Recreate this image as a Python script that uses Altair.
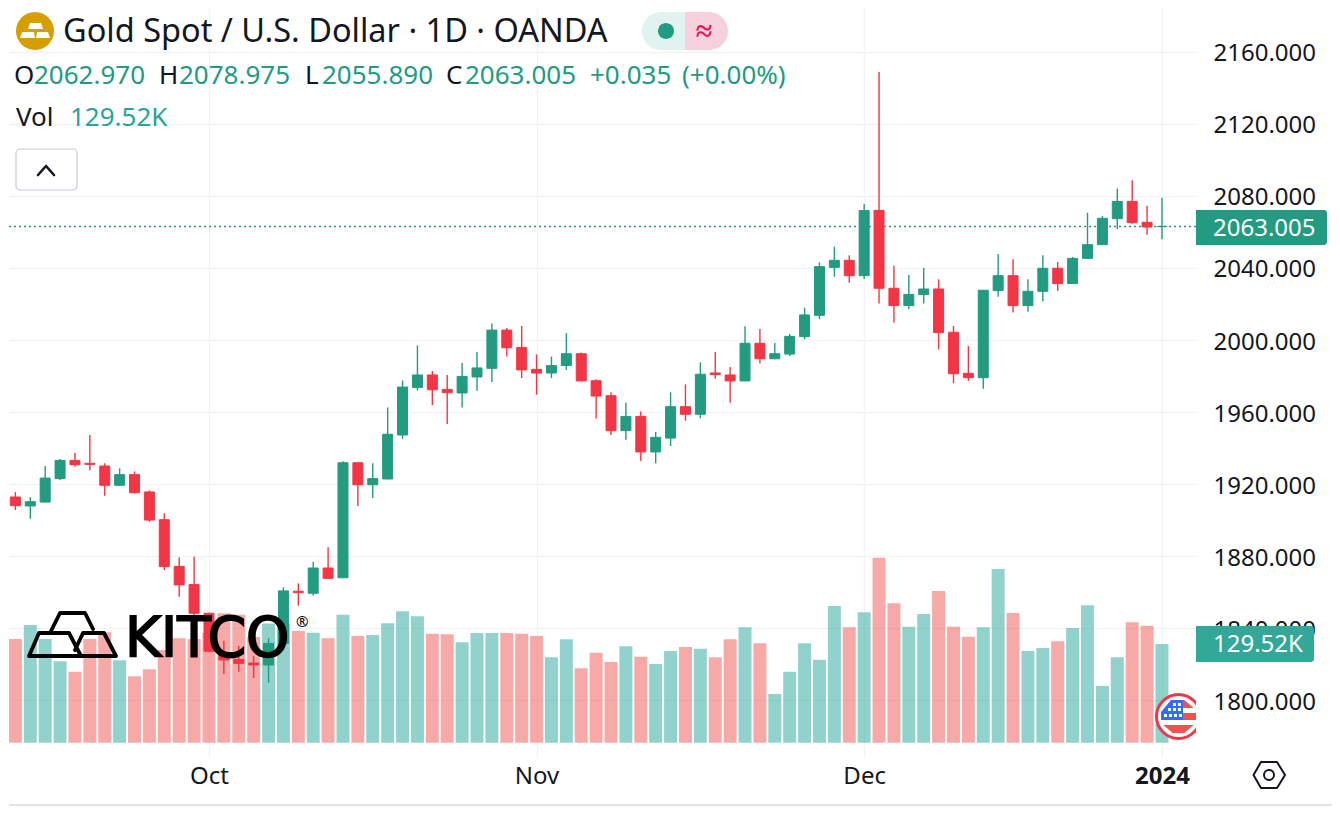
import altair as alt
import pandas as pd

# ---- data ----
opens = [1922.3,1912.9,1907.9,1910.1,1923.1,1933.2,1931.6,1930.1,1919.4,1925.3,1915.7,1900.3,1874.4,1864.3,1848.4,1826.7,1822.8,1820.8,1819.7,1831.7,
         1860.6,1859.5,1873.5,1868.1,1931.9,1919.7,1922.9,1947.3,1973.7,1980.6,1972.6,1970.6,1979.5,1984.3,2005.5,1995.9,1983.7,1981.7,1985.8,1992.4,
         1977.4,1969.1,1949.7,1957.6,1937.9,1945.6,1963.0,1958.8,1981.7,1980.6,1977.3,1998.2,1989.6,1992.2,2001.9,2013.7,2040.3,2044.2,2035.7,2071.9,
         2028.7,2019.1,2025.2,2028.3,2004.3,1981.5,1979.1,2027.4,2035.7,2019.1,2027.0,2039.8,2031.3,2045.3,2052.9,2067.3,2076.9,2065.3,2062.97]
highs = [1924.2,1915.7,1912.7,1930.1,1934.0,1937.3,1947.3,1931.6,1928.8,1927.1,1916.6,1903.8,1879.4,1879.8,1848.7,1833.2,1830.2,1824.7,1834.5,1862.8,
         1865.0,1877.0,1885.0,1932.7,1932.1,1931.6,1962.6,1977.6,1997.0,1982.8,1980.6,1987.2,1993.3,2009.2,2006.7,2007.8,1992.0,1990.8,2003.9,1993.0,
         1978.2,1971.0,1965.2,1960.4,1949.0,1971.0,1975.4,1987.6,1993.3,1985.0,2007.6,2006.1,1998.3,2003.3,2017.9,2043.1,2051.8,2047.0,2075.5,2148.7,
         2041.2,2036.1,2039.9,2033.7,2007.8,1996.7,2027.7,2047.7,2044.8,2033.7,2047.0,2043.3,2046.1,2070.6,2068.8,2084.1,2088.6,2074.5,2078.975]
lows = [1907.5,1905.7,1900.9,1909.8,1922.3,1929.7,1927.7,1913.6,1919.2,1914.8,1899.2,1872.4,1857.6,1846.1,1826.9,1814.7,1816.0,1812.5,1809.9,1831.4,
        1852.6,1858.2,1867.4,1868.0,1907.9,1912.3,1922.7,1945.1,1971.9,1963.9,1953.4,1962.6,1971.9,1976.7,1990.8,1978.9,1969.7,1978.9,1983.4,1977.1,
        1956.4,1947.3,1944.7,1932.9,1931.6,1941.2,1955.2,1956.5,1978.5,1965.2,1977.1,1986.9,1989.3,1991.1,2000.4,2011.5,2035.1,2031.8,2033.8,2020.2,
        2009.6,2017.2,2020.2,1994.8,1976.0,1977.3,1973.0,2024.0,2015.3,2015.7,2021.5,2027.2,2031.1,2045.1,2052.7,2061.4,2064.5,2058.4,2055.89]
closes = [1912.7,1908.1,1910.3,1923.4,1933.2,1930.8,1931.0,1919.4,1925.3,1915.3,1900.1,1874.3,1864.1,1848.4,1827.3,1822.5,1820.6,1819.7,1831.7,1860.8,
          1859.8,1873.5,1867.8,1931.9,1919.7,1923.1,1947.7,1973.9,1980.6,1972.4,1970.8,1979.8,1984.5,2005.5,1995.7,1983.4,1981.7,1985.8,1992.4,1977.3,
          1968.9,1949.7,1957.6,1937.9,1946.0,1963.0,1958.8,1981.0,1980.8,1977.3,1998.2,1989.6,1992.4,2002.0,2013.9,2040.7,2044.2,2035.7,2071.8,2028.7,
          2019.1,2025.3,2028.3,2004.1,1981.3,1979.1,2027.6,2035.7,2019.1,2027.0,2039.8,2031.3,2045.3,2052.9,2067.5,2076.9,2065.1,2062.7,2063.005]
volumes = [122.6,136.1,154.5,136.1,106.8,93.2,136.1,144.9,108.1,87.1,96.3,121.7,137.0,136.1,144.0,169.8,168.0,138.7,156.4,155.8,
           146.6,144.4,137.0,168.0,140.0,141.3,156.7,172.4,165.9,143.0,142.3,131.8,144.0,144.0,144.0,143.0,140.0,112.1,135.7,97.6,
           118.1,105.9,126.5,112.9,103.3,120.3,125.6,123.4,112.1,135.7,151.4,130.4,63.9,93.2,130.4,108.9,179.4,151.4,171.1,242.8,
           182.9,152.2,168.9,199.1,152.2,139.1,151.4,227.9,170.2,120.3,124.3,133.1,150.5,180.3,74.4,112.1,158.0,153.5,129.52]
month_ticks = [14, 36, 58, 78]
month_labels = ["Oct", "Nov", "Dec", "2024"]
price_ticks = [1800, 1840, 1880, 1920, 1960, 2000, 2040, 2080, 2120, 2160]
last_price = [2063.005]

FONT = "Noto Sans"
INK = "#131722"
UP = "#229b80"
DOWN = "#f23645"
GRID = "#f2f3f5"

df = pd.DataFrame({"i": range(len(opens)), "open": opens, "high": highs, "low": lows,
                   "close": closes, "vol": volumes})
df["dir"] = ["up" if c >= o else "down" for o, c in zip(opens, closes)]

X_DOMAIN = [0.57, 80.286]
Y_DOMAIN = [1768.65, 2184.2]
VOL_DOMAIN = [-18.77, 964.15]

x_scale = alt.Scale(domain=X_DOMAIN, nice=False, zero=False, padding=0)
y_scale = alt.Scale(domain=Y_DOMAIN, nice=False, zero=False)
dir_color = alt.Color("dir:N", scale=alt.Scale(domain=["up", "down"], range=[UP, DOWN]), legend=None)

label_expr = " : ".join(f"datum.value == {t} ? '{l}'" for t, l in zip(month_ticks[:-1], month_labels[:-1])) + f" : '{month_labels[-1]}'"
x_axis = alt.Axis(values=month_ticks, labelExpr=label_expr, title=None, grid=True, gridColor=GRID, gridWidth=1.5,
                  domain=False, ticks=False, labelFont=FONT, labelFontSize=24, labelColor=INK, labelPadding=7,
                  labelFontWeight={"condition": {"test": f"datum.value == {month_ticks[-1]}", "value": "bold"}, "value": "normal"})
y_axis = alt.Axis(orient="right", values=price_ticks, format=".3f", title=None, grid=True, gridColor=GRID, gridWidth=1.5,
                  domain=False, ticks=False, labelFont=FONT, labelFontSize=24, labelColor=INK, labelPadding=17, labelOffset=2)

volume = alt.Chart(df).mark_bar(size=13, opacity=0.5, clip=True).encode(
    x=alt.X("i:Q", scale=x_scale, axis=x_axis),
    y=alt.Y("vol:Q", scale=alt.Scale(domain=VOL_DOMAIN, nice=False), axis=None, stack=None),
    color=alt.Color("dir:N", scale=alt.Scale(domain=["up", "down"], range=["#26a69a", "#ef5350"]), legend=None),
)
wicks = alt.Chart(df).mark_rule(strokeWidth=1.4, clip=True).encode(
    x=alt.X("i:Q", scale=x_scale, axis=x_axis),
    y=alt.Y("low:Q", scale=y_scale, axis=y_axis),
    y2="high:Q",
    color=dir_color,
)
bodies = alt.Chart(df).mark_bar(size=10, strokeWidth=1, clip=True).encode(
    x=alt.X("i:Q", scale=x_scale, axis=x_axis),
    y=alt.Y("open:Q", scale=y_scale, axis=None),
    y2="close:Q",
    color=dir_color,
    stroke=alt.Stroke("dir:N", scale=alt.Scale(domain=["up", "down"], range=[UP, DOWN]), legend=None),
)
last_line = alt.Chart(pd.DataFrame({"p": last_price})).mark_rule(strokeDash=[2, 3], strokeWidth=1.5, color=UP).encode(
    y=alt.Y("p:Q", scale=y_scale, axis=None),
)

blank = alt.Data(values=[{}])
O = 8  # page margin


def text(s, px, py, color=INK, size=26, align="left", weight="normal", font=FONT, **kw):
    return alt.Chart(blank).mark_text(text=s, align=align, baseline="middle", font=font, fontSize=size,
                                      color=color, fontWeight=weight, **kw).encode(
        x=alt.value(px - O), y=alt.value(py - O))


def box(x0, x1, y0, y1, fill, **kw):
    return alt.Chart(blank).mark_rect(fill=fill, **kw).encode(
        x=alt.value(x0 - O), x2=alt.value(x1 - O), y=alt.value(y0 - O), y2=alt.value(y1 - O))


def shape(path, fill=None, stroke=None, width=0, clip=False):
    kw = {"filled": fill is not None, "opacity": 1, "size": 4, "strokeWidth": width, "clip": clip,
          "strokeJoin": "round", "strokeCap": "round"}
    if fill is not None:
        kw["fill"] = fill
    if stroke is not None:
        kw["stroke"] = stroke
    return alt.Chart(blank).mark_point(shape=path, **kw).encode(x=alt.value(-O), y=alt.value(-O))


def disc(cx, cy, r):
    return f"M{cx-r},{cy}A{r},{r} 0 1,0 {cx+r},{cy}A{r},{r} 0 1,0 {cx-r},{cy}Z"


layers = [
    volume, last_line, wicks, bodies,
    # price tags
    box(1195, 1326, 210, 245, UP, cornerRadiusTopRight=3, cornerRadiusBottomRight=3),
    text("2063.005", 1212, 229, "#ffffff", 24),
    box(1195, 1313, 626, 662, "#32a898", cornerRadiusTopRight=3, cornerRadiusBottomRight=3),
    text("129.52K", 1212, 645, "#ffffff", 24),
    # header
    shape(disc(34, 31, 19), fill="#d69e00"),
    shape("M29,23L40,23L42,29L27,29ZM21,32L33,32L34,38L19,38ZM36,32L47,32L49,38L35,38Z", fill="#ffffff"),
    text("Gold Spot / U.S. Dollar · 1D · OANDA", 62, 32, size=32.5),
    box(641, 684, 12, 50, "#e1f3ef", cornerRadiusTopLeft=19, cornerRadiusBottomLeft=19),
    box(684, 727, 12, 50, "#f7d0dd", cornerRadiusTopRight=19, cornerRadiusBottomRight=19),
    shape(disc(665, 31, 8), fill=UP),
    text("≈", 703, 32, "#e0185a", 30, align="center", weight="bold"),
    text("O", 13, 76), text("2062.970", 33, 76, UP),
    text("H", 158, 76), text("2078.975", 178, 76, UP),
    text("L", 304, 76), text("2055.890", 321, 76, UP),
    text("C", 445, 76), text("2063.005", 464, 76, UP),
    text("+0.035", 589, 76, UP), text("(+0.00%)", 681, 76, UP),
    text("Vol", 15, 118), text("129.52K", 69, 118, "#26a69a"),
    box(15, 76, 149, 190, "#ffffff", stroke="#c9cbd6", strokeWidth=1.2, cornerRadius=4),
    shape("M37,175L45,166L53,175", stroke=INK, width=2.6),
    # KITCO logo
    shape("M50,631L59,613L84,613L92,629M38,633L68,633L80,656L28,656ZM74,650L82,633L103,633L115,656L74,656",
          stroke="#000000", width=3.8),
    text("KITCO", 124, 639, "#000000", 55, font="DejaVu Sans", stroke="#000000", strokeWidth=1.8),
    text("®", 295, 622, "#000000", 15),
    # flag
    shape(disc(1177.5, 716.5, 22), fill="#ffffff", stroke=DOWN, width=3, clip=True),
    shape("M1182,700L1183.3,700L1192.8,708L1182,708ZM1182,713L1195,713L1195,720L1182,720ZM1162.2,725L1192.8,725L1183.3,733L1171.7,733Z",
          fill="#ef5350", clip=True),
    shape("M1170,700L1182,700L1182,720L1160,720L1160,712Z", fill="#2f6ff0", clip=True),
    shape("M1172,703h3v3h-3ZM1177,703h3v3h-3ZM1167,708h3v3h-3ZM1172,708h3v3h-3ZM1177,708h3v3h-3ZM1163,714h3v3h-3ZM1168,714h3v3h-3ZM1173,714h3v3h-3ZM1178,714h3v3h-3Z",
          fill="#ffffff", clip=True),
    # gear + frame
    shape("M1252.5,775L1260,762L1276,762L1284,775L1276,788L1260,788Z", stroke=INK, width=2),
    shape(disc(1268, 775, 5), stroke=INK, width=2),
    box(8, 1331, 804, 806, "#e0e3eb"),
]

chart = alt.layer(*layers).resolve_scale(y="independent", x="shared", color="independent", stroke="independent").properties(
    width=1187, height=749, padding=0,
    background="#ffffff",
).configure_view(stroke=None)

chart.save("out.html", embed_options={"renderer": "svg", "actions": False})
